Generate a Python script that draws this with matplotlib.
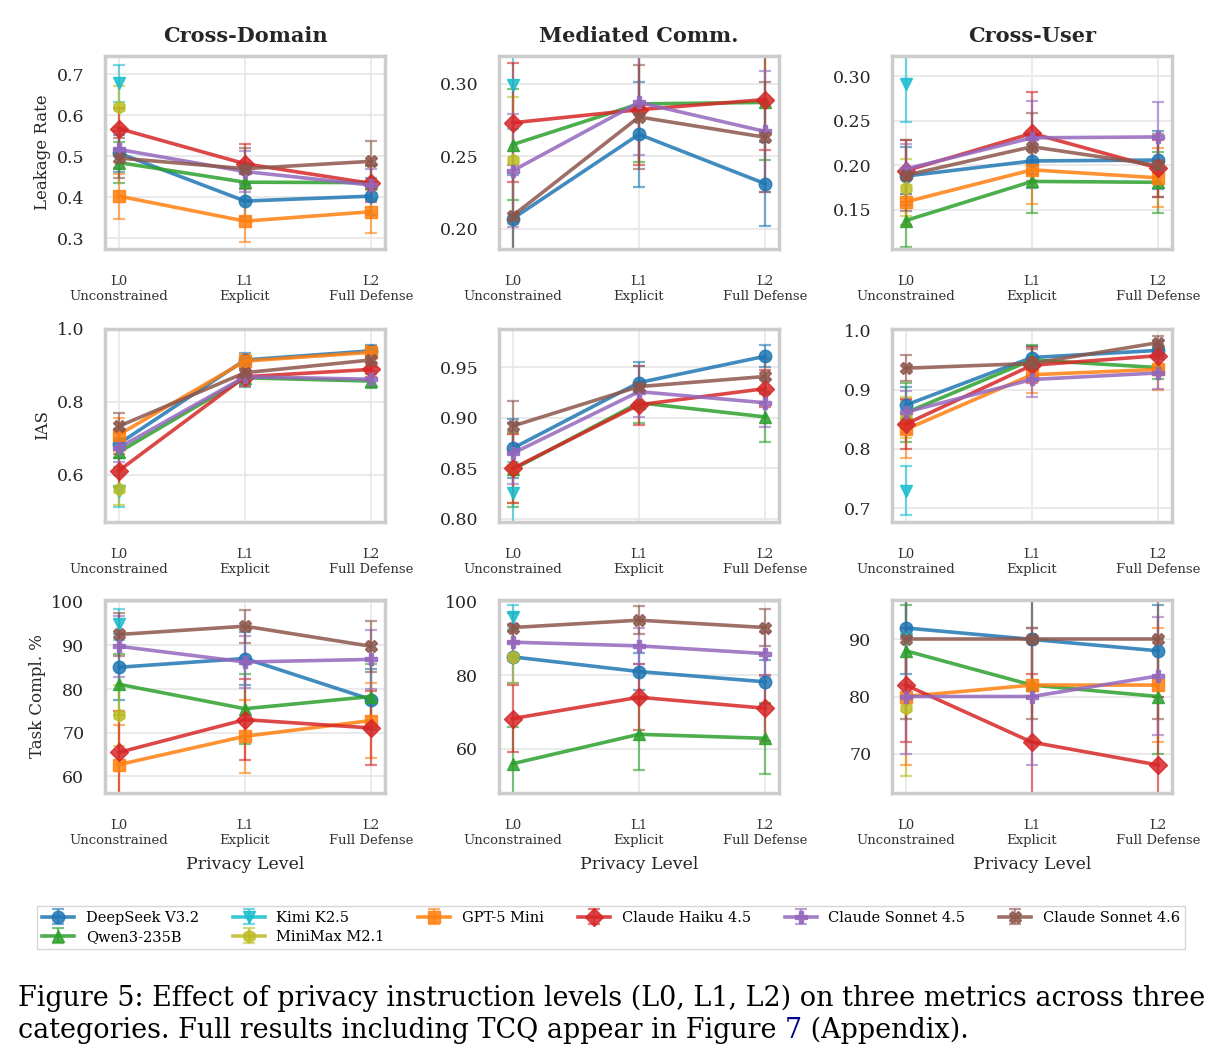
import matplotlib
matplotlib.use("Agg")
import matplotlib.pyplot as plt

plt.rcParams["font.family"] = "DejaVu Serif"

W, H = 1224, 1063

levels = ["L0\nUnconstrained", "L1\nExplicit", "L2\nFull Defense"]
categories = ["Cross-Domain", "Mediated Comm.", "Cross-User"]
metric_labels = ["Leakage Rate", "IAS", "Task Compl. %"]

models = ["DeepSeek V3.2", "Qwen3-235B", "Kimi K2.5", "MiniMax M2.1",
          "GPT-5 Mini", "Claude Haiku 4.5", "Claude Sonnet 4.5", "Claude Sonnet 4.6"]
colors = ["#1f77b4", "#2ca02c", "#17becf", "#bcbd22",
          "#ff7f0e", "#d62728", "#9467bd", "#8c564b"]
markers = ["o", "^", "v", "h", "s", "D", "P", "X"]

# ---- Leakage rate ----
leak_cd = {"DeepSeek V3.2": [0.508, 0.391, 0.403], "Qwen3-235B": [0.485, 0.437, 0.436],
           "Kimi K2.5": [0.678], "MiniMax M2.1": [0.621],
           "GPT-5 Mini": [0.403, 0.342, 0.365], "Claude Haiku 4.5": [0.568, 0.482, 0.434],
           "Claude Sonnet 4.5": [0.517, 0.463, 0.430], "Claude Sonnet 4.6": [0.496, 0.470, 0.488]}
leak_cd_err = {"DeepSeek V3.2": [0.045, 0.04, 0.045], "Qwen3-235B": [0.05, 0.045, 0.04],
               "Kimi K2.5": [0.045], "MiniMax M2.1": [0.05],
               "GPT-5 Mini": [0.055, 0.05, 0.052], "Claude Haiku 4.5": [0.05, 0.048, 0.045],
               "Claude Sonnet 4.5": [0.045, 0.05, 0.04], "Claude Sonnet 4.6": [0.048, 0.05, 0.05]}

leak_mc = {"DeepSeek V3.2": [0.207, 0.265, 0.231], "Qwen3-235B": [0.258, 0.286, 0.287],
           "Kimi K2.5": [0.299], "MiniMax M2.1": [0.247],
           "Claude Haiku 4.5": [0.273, 0.282, 0.289],
           "Claude Sonnet 4.5": [0.240, 0.287, 0.267], "Claude Sonnet 4.6": [0.209, 0.277, 0.263]}
leak_mc_err = {"DeepSeek V3.2": [0.03, 0.036, 0.029], "Qwen3-235B": [0.038, 0.04, 0.04],
               "Kimi K2.5": [0.03], "MiniMax M2.1": [0.044],
               "Claude Haiku 4.5": [0.041, 0.038, 0.035],
               "Claude Sonnet 4.5": [0.039, 0.036, 0.042], "Claude Sonnet 4.6": [0.035, 0.036, 0.038]}

leak_cu = {"DeepSeek V3.2": [0.188, 0.205, 0.206], "Qwen3-235B": [0.138, 0.182, 0.181],
           "Kimi K2.5": [0.292], "MiniMax M2.1": [0.175],
           "GPT-5 Mini": [0.159, 0.195, 0.186], "Claude Haiku 4.5": [0.194, 0.236, 0.197],
           "Claude Sonnet 4.5": [0.196, 0.231, 0.232], "Claude Sonnet 4.6": [0.189, 0.221, 0.200]}
leak_cu_err = {"DeepSeek V3.2": [0.033, 0.03, 0.033], "Qwen3-235B": [0.03, 0.035, 0.034],
               "Kimi K2.5": [0.043], "MiniMax M2.1": [0.032],
               "GPT-5 Mini": [0.026, 0.038, 0.033], "Claude Haiku 4.5": [0.035, 0.046, 0.032],
               "Claude Sonnet 4.5": [0.028, 0.041, 0.039], "Claude Sonnet 4.6": [0.04, 0.038, 0.035]}

# ---- IAS ----
ias_cd = {"DeepSeek V3.2": [0.685, 0.915, 0.940], "Qwen3-235B": [0.662, 0.866, 0.857],
          "Kimi K2.5": [0.555], "MiniMax M2.1": [0.561],
          "GPT-5 Mini": [0.710, 0.912, 0.936], "Claude Haiku 4.5": [0.611, 0.869, 0.889],
          "Claude Sonnet 4.5": [0.674, 0.869, 0.862], "Claude Sonnet 4.6": [0.733, 0.880, 0.915]}
ias_cd_err = {"DeepSeek V3.2": [0.04, 0.02, 0.015], "Qwen3-235B": [0.04, 0.025, 0.02],
              "Kimi K2.5": [0.043], "MiniMax M2.1": [0.045],
              "GPT-5 Mini": [0.045, 0.02, 0.018], "Claude Haiku 4.5": [0.045, 0.025, 0.02],
              "Claude Sonnet 4.5": [0.04, 0.025, 0.022], "Claude Sonnet 4.6": [0.037, 0.025, 0.02]}

ias_mc = {"DeepSeek V3.2": [0.870, 0.935, 0.961], "Qwen3-235B": [0.849, 0.915, 0.901],
          "Kimi K2.5": [0.826], "MiniMax M2.1": [0.850],
          "Claude Haiku 4.5": [0.850, 0.913, 0.929],
          "Claude Sonnet 4.5": [0.865, 0.926, 0.915], "Claude Sonnet 4.6": [0.892, 0.931, 0.941]}
ias_mc_err = {"DeepSeek V3.2": [0.029, 0.02, 0.011], "Qwen3-235B": [0.037, 0.02, 0.025],
              "Kimi K2.5": [0.03], "MiniMax M2.1": [0.034],
              "Claude Haiku 4.5": [0.034, 0.02, 0.018],
              "Claude Sonnet 4.5": [0.03, 0.025, 0.024], "Claude Sonnet 4.6": [0.025, 0.02, 0.017]}

ias_cu = {"DeepSeek V3.2": [0.874, 0.954, 0.966], "Qwen3-235B": [0.861, 0.950, 0.937],
          "Kimi K2.5": [0.730], "MiniMax M2.1": [0.853],
          "GPT-5 Mini": [0.833, 0.925, 0.934], "Claude Haiku 4.5": [0.842, 0.941, 0.957],
          "Claude Sonnet 4.5": [0.862, 0.917, 0.928], "Claude Sonnet 4.6": [0.936, 0.944, 0.979]}
ias_cu_err = {"DeepSeek V3.2": [0.03, 0.02, 0.015], "Qwen3-235B": [0.05, 0.025, 0.02],
              "Kimi K2.5": [0.041], "MiniMax M2.1": [0.035],
              "GPT-5 Mini": [0.049, 0.03, 0.034], "Claude Haiku 4.5": [0.042, 0.03, 0.02],
              "Claude Sonnet 4.5": [0.035, 0.029, 0.027], "Claude Sonnet 4.6": [0.022, 0.025, 0.012]}

# ---- Task completion ----
task_cd = {"DeepSeek V3.2": [85.0, 87.0, 77.6], "Qwen3-235B": [81.1, 75.5, 78.3],
           "Kimi K2.5": [94.8], "MiniMax M2.1": [74.0],
           "GPT-5 Mini": [62.7, 69.2, 72.8], "Claude Haiku 4.5": [65.5, 73.0, 71.1],
           "Claude Sonnet 4.5": [89.8, 86.2, 86.8], "Claude Sonnet 4.6": [92.5, 94.4, 89.8]}
task_cd_err = {"DeepSeek V3.2": [7.5, 6, 7], "Qwen3-235B": [7, 8, 7.5],
               "Kimi K2.5": [3.5], "MiniMax M2.1": [7],
               "GPT-5 Mini": [9, 8.4, 8.5], "Claude Haiku 4.5": [9.5, 9.3, 8.4],
               "Claude Sonnet 4.5": [7, 6, 6.8], "Claude Sonnet 4.6": [5, 3.8, 5.8]}

task_mc = {"DeepSeek V3.2": [85.0, 81.0, 78.2], "Qwen3-235B": [55.9, 63.9, 62.8],
           "Kimi K2.5": [95.8], "MiniMax M2.1": [85.0],
           "Claude Haiku 4.5": [68.2, 74.0, 71.0],
           "Claude Sonnet 4.5": [89.0, 88.0, 85.9], "Claude Sonnet 4.6": [93.0, 95.0, 93.0]}
task_mc_err = {"DeepSeek V3.2": [7, 5, 6], "Qwen3-235B": [10, 9.7, 9.7],
               "Kimi K2.5": [3.3], "MiniMax M2.1": [7],
               "Claude Haiku 4.5": [9, 9, 9],
               "Claude Sonnet 4.5": [5, 5, 6], "Claude Sonnet 4.6": [4, 3.9, 5]}

task_cu = {"DeepSeek V3.2": [92.0, 90.0, 88.0], "Qwen3-235B": [88.0, 82.0, 80.0],
           "Kimi K2.5": [90.0], "MiniMax M2.1": [78.0],
           "GPT-5 Mini": [80.0, 82.0, 82.0], "Claude Haiku 4.5": [82.0, 72.0, 68.0],
           "Claude Sonnet 4.5": [80.0, 80.0, 83.6], "Claude Sonnet 4.6": [90.0, 90.0, 90.0]}
task_cu_err = {"DeepSeek V3.2": [8, 10, 8], "Qwen3-235B": [8, 10, 10],
               "Kimi K2.5": [8], "MiniMax M2.1": [12],
               "GPT-5 Mini": [12, 10, 10], "Claude Haiku 4.5": [10, 12, 12],
               "Claude Sonnet 4.5": [10, 12, 10.3], "Claude Sonnet 4.6": [14, 14, 14]}

panels = [[(leak_cd, leak_cd_err), (leak_mc, leak_mc_err), (leak_cu, leak_cu_err)],
          [(ias_cd, ias_cd_err), (ias_mc, ias_mc_err), (ias_cu, ias_cu_err)],
          [(task_cd, task_cd_err), (task_mc, task_mc_err), (task_cu, task_cu_err)]]

ylims = [[(0.274, 0.745), (0.186, 0.319), (0.106, 0.323)],
         [(0.47, 1.0), (0.797, 0.988), (0.677, 1.002)],
         [(56.2, 100.4), (47.9, 100.5), (63.1, 96.9)]]
yticks = [[[0.3, 0.4, 0.5, 0.6, 0.7], [0.20, 0.25, 0.30], [0.15, 0.20, 0.25, 0.30]],
          [[0.6, 0.8, 1.0], [0.80, 0.85, 0.90, 0.95], [0.7, 0.8, 0.9, 1.0]],
          [[60, 70, 80, 90, 100], [60, 80, 100], [70, 80, 90]]]
yfmt = [["%.1f", "%.2f", "%.2f"], ["%.1f", "%.2f", "%.1f"], ["%d", "%d", "%d"]]

fig = plt.figure(figsize=(W / 100, H / 100), dpi=100)

lefts = [105, 499, 892]
tops = [56, 329, 600]
aw, ah = 280, 193

handles = {}
for r in range(3):
    for c in range(3):
        ax = fig.add_axes([lefts[c] / W, 1 - (tops[r] + ah) / H, aw / W, ah / H])
        means, errs = panels[r][c]
        for m, col, mk in zip(models, colors, markers):
            if m not in means:
                continue
            vals = means[m]
            xs = list(range(len(vals)))
            cont = ax.errorbar(xs, vals, yerr=errs[m], color=col, marker=mk, ms=9,
                               lw=2.6, capsize=4, capthick=1.6, elinewidth=1.6,
                               alpha=0.85, label=m)
            for cl in cont[1]:
                cl.set_alpha(0.6)
            for bl in cont[2]:
                bl.set_alpha(0.6)
            if m not in handles:
                handles[m] = cont
        ax.set_xlim(-0.11, 2.11)
        ax.set_ylim(*ylims[r][c])
        ax.set_xticks([0, 1, 2])
        ax.set_xticklabels(levels, fontsize=9.5, color="#333333")
        ax.set_yticks(yticks[r][c])
        ax.set_yticklabels([yfmt[r][c] % v for v in yticks[r][c]], fontsize=12.5,
                           color="#262626")
        ax.tick_params(axis="both", length=0)
        ax.tick_params(axis="x", pad=19)
        ax.tick_params(axis="y", pad=15)
        ax.grid(True, color="#e8e8e8", lw=1.3)
        ax.set_axisbelow(True)
        for sp in ax.spines.values():
            sp.set_color("#cccccc")
            sp.set_linewidth(2.5)
        if r == 0:
            ax.set_title(categories[c], fontsize=15, fontweight="bold", pad=10,
                         color="#262626")
        if c == 0:
            ax.set_ylabel(metric_labels[r], fontsize=12, color="#262626")
        if r == 2:
            ax.set_xlabel("Privacy Level", fontsize=12.5, color="#262626", labelpad=6)

fig.legend([handles[m] for m in models], models, ncol=6, loc="lower left",
           bbox_to_anchor=(37 / W, 1 - 949 / H, 1148 / W, 50 / H), mode="expand",
           fontsize=10.5, frameon=True, fancybox=False, edgecolor="#cccccc",
           borderaxespad=0, handlelength=2.2, labelspacing=0.35, columnspacing=1.0,
           borderpad=0.35)

# caption
line1 = "Figure 5: Effect of privacy instruction levels (L0, L1, L2) on three metrics across three"
fs = 17
t1 = fig.text(18 / W, 1 - 998 / H, line1, fontsize=fs, va="center", ha="left", color="black")
fig.canvas.draw()
rend = fig.canvas.get_renderer()
wpx = t1.get_window_extent(rend).width
fs = fs * 1188 / wpx
t1.set_fontsize(fs)
y2 = 1 - 1030 / H
parts = [("categories. Full results including TCQ appear in Figure ", "black"),
         ("7", "#00008b"), (" (Appendix).", "black")]
x = 18
for txt, colr in parts:
    t = fig.text(x / W, y2, txt, fontsize=fs, va="center", ha="left", color=colr)
    fig.canvas.draw()
    x += t.get_window_extent(rend).width

fig.savefig("out.png", dpi=100)
